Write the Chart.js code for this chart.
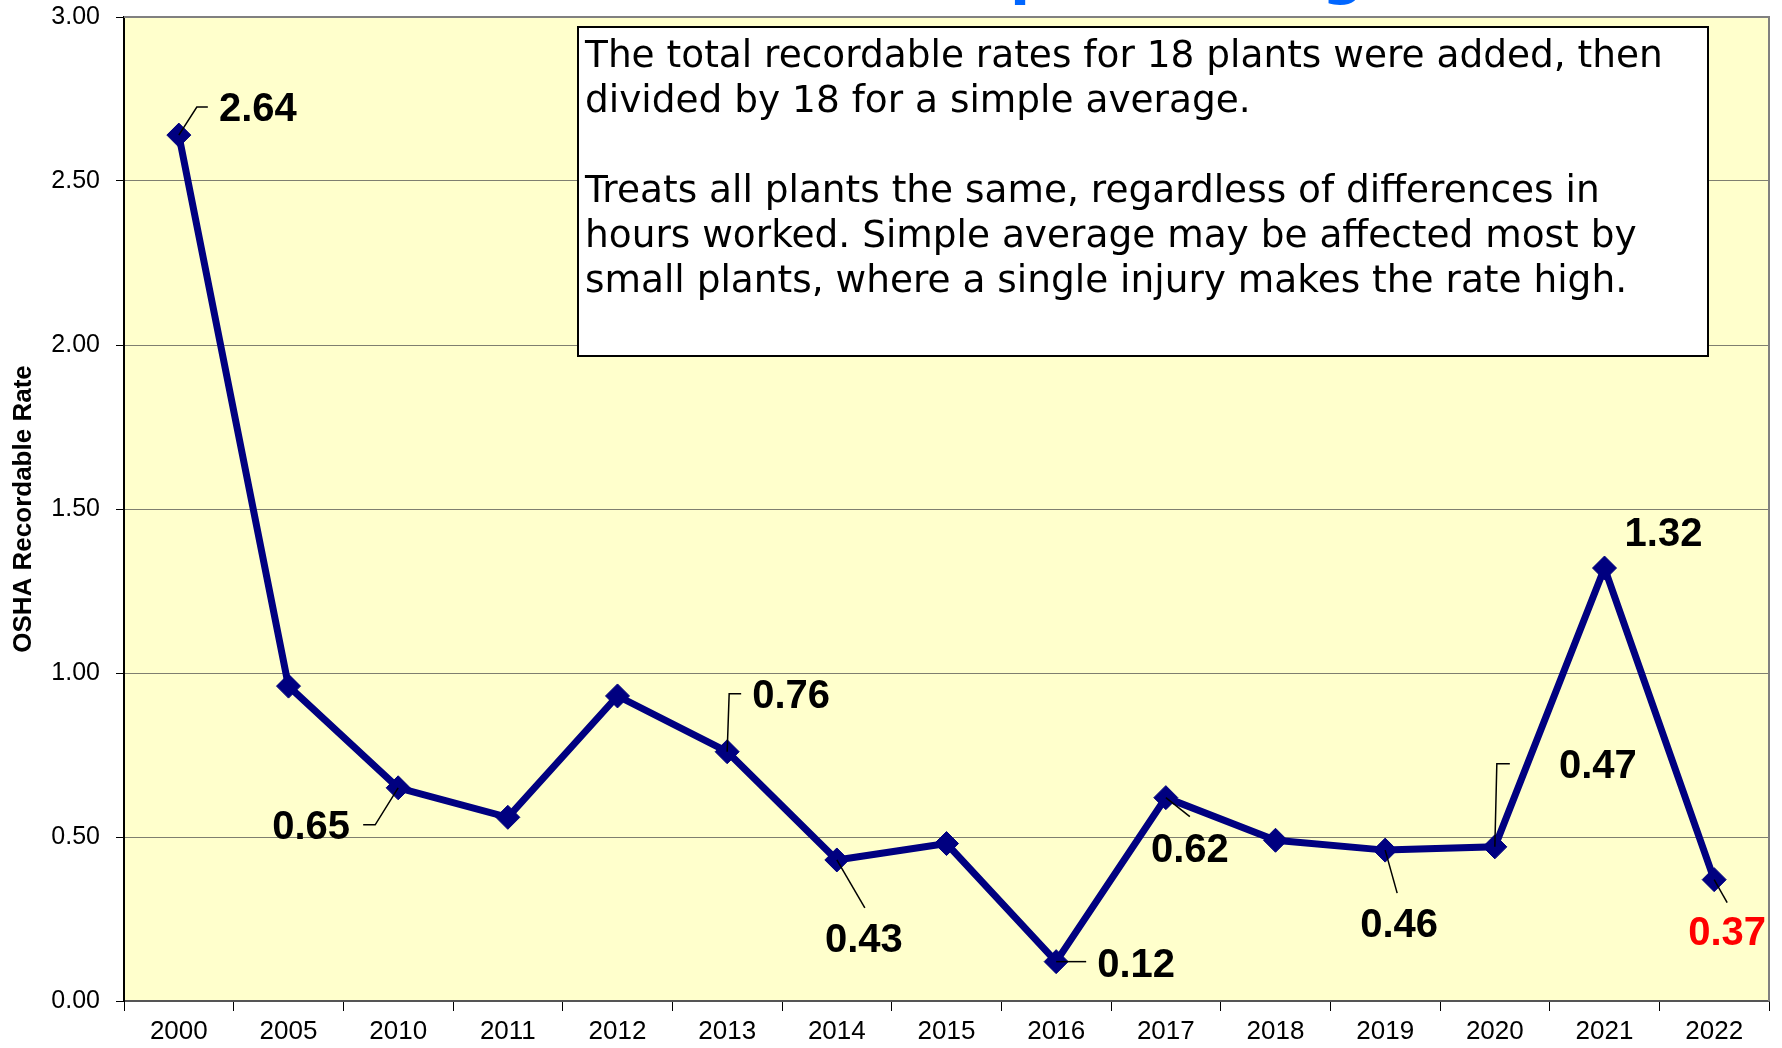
<!DOCTYPE html>
<html><head><meta charset="utf-8">
<script src="https://cdn.jsdelivr.net/npm/chart.js@4"></script>
<style>html,body{margin:0;padding:0;background:#fff;}#wrap{width:1782px;height:1048px;}</style>
</head><body><div id="wrap"><canvas id="c" width="1782" height="1048"></canvas></div>
<script>
// ---- data ----
const categories = ['2000','2005','2010','2011','2012','2013','2014','2015','2016','2017','2018','2019','2020','2021','2022'];
const rates = [2.64, 0.96, 0.65, 0.56, 0.93, 0.76, 0.43, 0.48, 0.12, 0.62, 0.49, 0.46, 0.47, 1.32, 0.37];
const yTickValues = [0, 0.5, 1, 1.5, 2, 2.5, 3];
const labeledIndex = [0, 2, 5, 6, 8, 9, 11, 12, 13, 14];
const highlightIndex = [14];
const titleText = 'Simple Average';
const yAxisTitle = 'OSHA Recordable Rate';
const noteLines = [
  'The total recordable rates for 18 plants were added, then',
  'divided by 18 for a simple average.',
  '',
  'Treats all plants the same, regardless of differences in',
  'hours worked. Simple average may be affected most by',
  'small plants, where a single injury makes the rate high.'
];

// ---- annotation layout (pixel offsets from each point) ----
const labelLayout = {
  0:  {dx: 79,  dy: -27, leader: [[0,0],[18,-28],[29,-28]]},
  2:  {dx: -87, dy: 38,  leader: [[0,0],[-23,37],[-35,37]]},
  5:  {dx: 64,  dy: -57, leader: [[0,0],[2,-58],[14,-58]]},
  6:  {dx: 27,  dy: 79,  leader: [[0,0],[28,48]]},
  8:  {dx: 80,  dy: 2,   leader: [[0,0],[30,0]]},
  9:  {dx: 24,  dy: 51,  leader: [[0,0],[24,19]]},
  11: {dx: 14,  dy: 74,  leader: [[0,0],[12,43]]},
  12: {dx: 103, dy: -82, leader: [[0,0],[2,-83],[15,-83]]},
  13: {dx: 59,  dy: -35, leader: null},
  14: {dx: 13,  dy: 52,  leader: [[0,0],[13,23]]}
};

const decor = {
  id: 'decor',
  beforeDraw(chart) {
    const {ctx, chartArea: a} = chart;
    ctx.save();
    ctx.fillStyle = '#FFFFCC';
    ctx.fillRect(a.left, a.top, a.right - a.left, a.bottom - a.top);
    ctx.restore();
  },
  afterDatasetsDraw(chart) {
    const {ctx} = chart;
    const meta = chart.getDatasetMeta(0);
    ctx.save();
    labeledIndex.forEach(i => {
      const el = meta.data[i];
      const L = labelLayout[i];
      if (!el || !L) return;
      if (L.leader) {
        ctx.strokeStyle = '#000';
        ctx.lineWidth = 1.5;
        ctx.beginPath();
        L.leader.forEach((p, k) => {
          if (k === 0) ctx.moveTo(el.x + p[0], el.y + p[1]);
          else ctx.lineTo(el.x + p[0], el.y + p[1]);
        });
        ctx.stroke();
      }
      ctx.font = 'bold 40px "Liberation Sans", Arial, sans-serif';
      ctx.fillStyle = highlightIndex.includes(i) ? '#FF0000' : '#000000';
      ctx.textAlign = 'center';
      ctx.textBaseline = 'middle';
      ctx.fillText(rates[i].toFixed(2), el.x + L.dx, el.y + L.dy + 2);
    });
    ctx.restore();
  },
  afterDraw(chart) {
    const {ctx, chartArea: a} = chart;
    ctx.save();
    // top & right plot border
    ctx.strokeStyle = '#808080';
    ctx.lineWidth = 2;
    ctx.beginPath();
    ctx.moveTo(a.left, a.top);
    ctx.lineTo(a.right, a.top);
    ctx.lineTo(a.right, a.bottom);
    ctx.stroke();

    // note box
    const bx = 578, by = 27, bw = 1130, bh = 329;
    ctx.fillStyle = '#FFFFFF';
    ctx.fillRect(bx, by, bw, bh);
    ctx.strokeStyle = '#000';
    ctx.lineWidth = 2;
    ctx.strokeRect(bx, by, bw, bh);
    ctx.font = '32px "DejaVu Sans", Verdana, sans-serif';
    const w0 = ctx.measureText(noteLines[0]).width;
    const fs = 32 * 1078 / w0;
    ctx.font = fs.toFixed(2) + 'px "DejaVu Sans", Verdana, sans-serif';
    ctx.fillStyle = '#000';
    ctx.textAlign = 'left';
    ctx.textBaseline = 'middle';
    noteLines.forEach((t, k) => { if (t) ctx.fillText(t, 585, 57 + k * 45); });

    // title (mostly cut off by the top edge)
    ctx.font = 'bold 60px "DejaVu Sans", Verdana, sans-serif';
    const dPG = ctx.measureText('ple Avera').width;
    const ts = 60 * 312 / dPG;
    ctx.font = 'bold ' + ts.toFixed(2) + 'px "DejaVu Sans", Verdana, sans-serif';
    const pre = ctx.measureText('Sim').width;
    ctx.fillStyle = '#0066FF';
    ctx.textAlign = 'left';
    ctx.textBaseline = 'alphabetic';
    ctx.fillText(titleText, 1010 - pre, -7);
    ctx.restore();
  }
};

new Chart(document.getElementById('c'), {
  type: 'line',
  data: {
    labels: categories,
    datasets: [{
      data: rates,
      borderColor: '#000080',
      borderWidth: 7,
      backgroundColor: '#000080',
      pointStyle: 'rectRot',
      pointRadius: 12,
      pointBorderWidth: 1,
      pointBorderColor: '#000080',
      pointBackgroundColor: '#000080',
      tension: 0,
      fill: false
    }]
  },
  options: {
    responsive: false,
    animation: false,
    events: [],
    layout: {padding: {left: 0, right: 6, top: 17, bottom: 0}},
    plugins: {legend: {display: false}, tooltip: {enabled: false}, title: {display: false}},
    scales: {
      x: {
        type: 'category',
        offset: true,
        grid: {display: true, offset: true, drawOnChartArea: false, tickLength: 10, color: '#000', tickColor: '#000', lineWidth: 1},
        border: {display: true, color: '#555', width: 2},
        ticks: {color: '#000', font: {family: '"Liberation Sans", Arial, sans-serif', size: 26}, padding: 5, maxRotation: 0, autoSkip: false},
        afterFit(s) { s.height = 47; s.paddingLeft = 0; s.paddingRight = 0; }
      },
      y: {
        min: yTickValues[0],
        max: yTickValues[yTickValues.length - 1],
        afterBuildTicks(s) { s.ticks = yTickValues.map(v => ({value: v})); },
        grid: {color: '#7f7f70', lineWidth: 1, tickLength: 8, tickColor: '#000'},
        border: {display: true, color: '#000', width: 2},
        ticks: {color: '#000', font: {family: '"Liberation Sans", Arial, sans-serif', size: 25}, padding: 16,
                callback: v => Number(v).toFixed(2)},
        title: {display: true, text: yAxisTitle, color: '#000', font: {family: '"Liberation Sans", Arial, sans-serif', size: 26, weight: 'bold'}, padding: {top: 8, bottom: 0}},
        afterFit(s) { s.width = 124; s.paddingTop = 0; s.paddingBottom = 0; }
      }
    }
  },
  plugins: [decor]
});
</script>
</body></html>
